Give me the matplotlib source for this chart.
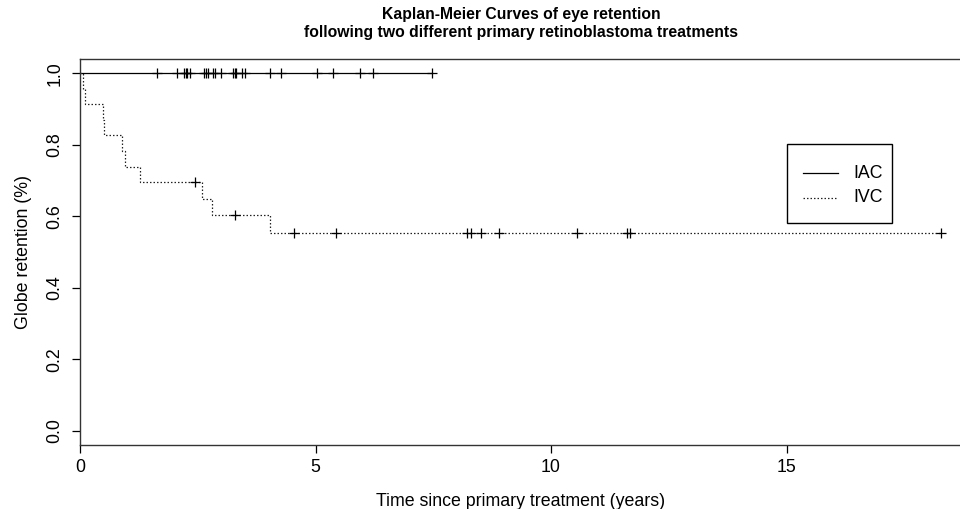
import numpy as np
import matplotlib
matplotlib.use("Agg")
import matplotlib.pyplot as plt
from matplotlib.lines import Line2D
from matplotlib.patches import Rectangle

plt.rcParams['font.family'] = ['Liberation Sans', 'DejaVu Sans']

# ---- data ----
# IAC group: all observations censored (no events)
iac_times = [1.63, 2.07, 2.21, 2.24, 2.27, 2.34, 2.63, 2.67, 2.71, 2.82, 2.86, 2.99,
             3.25, 3.29, 3.32, 3.45, 3.50, 4.04, 4.26, 5.04, 5.38, 5.94, 6.22, 7.47]
iac_events = [0] * len(iac_times)

# IVC group: event times (status 1) and censoring times (status 0)
ivc_event_times = [0.055, 0.11, 0.48, 0.51, 0.885, 0.96, 1.27, 2.60, 2.81, 4.03]
ivc_censor_times = [2.44, 3.29, 4.54, 5.43, 8.22, 8.30, 8.30, 8.51, 8.90,
                    10.55, 11.61, 11.68, 18.28]

group_labels = ["IAC", "IVC"]
title_lines = ["Kaplan-Meier Curves of eye retention",
               "following two different primary retinoblastoma treatments"]
x_label = "Time since primary treatment (years)"
y_label = "Globe retention (%)"
x_ticks = [0, 5, 10, 15]
y_ticks = [0.0, 0.2, 0.4, 0.6, 0.8, 1.0]
y_tick_labels = ["0.0", "0.2", "0.4", "0.6", "0.8", "1.0"]


def kaplan_meier(times, status):
    times = np.asarray(times, float)
    status = np.asarray(status, int)
    uniq = np.unique(times)
    surv = 1.0
    step_t, step_s = [0.0], [1.0]
    cens_t, cens_s = [], []
    for t in uniq:
        at_risk = np.sum(times >= t)
        d = np.sum((times == t) & (status == 1))
        c = np.sum((times == t) & (status == 0))
        if d > 0:
            surv *= (1 - d / at_risk)
            step_t.append(t)
            step_s.append(surv)
        if c > 0:
            cens_t.append(t)
            cens_s.append(surv)
    tmax = times.max()
    if step_t[-1] < tmax:
        step_t.append(tmax)
        step_s.append(surv)
    return np.array(step_t), np.array(step_s), np.array(cens_t), np.array(cens_s)


W, H = 960, 509
fig = plt.figure(figsize=(W / 100, H / 100), dpi=100)
left, right, top, bottom = 80, 962, 59, 445
ax = fig.add_axes([left / W, 1 - bottom / H, (right - left) / W, (bottom - top) / H])

lw = 0.9
dotted = (0, (1.2, 1.6))
styles = [dict(color='black', lw=lw, linestyle='-'),
          dict(color='#222222', lw=lw, linestyle=dotted)]

# IAC
t1, s1, ct1, cs1 = kaplan_meier(iac_times, iac_events)
ax.step(t1, s1, where='post', **styles[0])
ax.plot(ct1, cs1, linestyle='none', marker='+', markersize=7.5, mew=0.9, color='black')

# IVC
ivc_times = ivc_event_times + ivc_censor_times
ivc_status = [1] * len(ivc_event_times) + [0] * len(ivc_censor_times)
t2, s2, ct2, cs2 = kaplan_meier(ivc_times, ivc_status)
ax.step(t2, s2, where='post', **styles[1])
ax.plot(ct2, cs2, linestyle='none', marker='+', markersize=7.5, mew=0.9, color='black')

ax.set_xlim(0, (right - left) / 47.1)
ax.set_ylim(-0.04, 1.04)
ax.set_xticks(x_ticks)
ax.set_xticklabels([str(v) for v in x_ticks])
ax.set_yticks(y_ticks)
ax.set_yticklabels(y_tick_labels, rotation=90, va='center')
ax.tick_params(axis='both', direction='out', length=5.5, width=0.9, labelsize=12.8, colors='black')
ax.tick_params(axis='x', pad=4.5)
ax.tick_params(axis='y', pad=6.5)
for sp in ax.spines.values():
    sp.set_linewidth(1.0)
    sp.set_color('#333333')

ax.set_xlabel(x_label, fontsize=12.8, labelpad=12)
ax.set_ylabel(y_label, fontsize=12.8, labelpad=10)

fig.text(521 / W, 1 - 14 / H, title_lines[0], ha='center', va='center',
         fontsize=11.3, fontweight='bold')
fig.text(521 / W, 1 - 33 / H, title_lines[1], ha='center', va='center',
         fontsize=11.3, fontweight='bold')

# legend box (R-style), laid out in figure pixel positions
def fx(px):
    return px / W


def fy(py):
    return 1 - py / H


box = Rectangle((fx(786.7), fy(223)), fx(892.3) - fx(786.7), fy(144) - fy(223),
                transform=fig.transFigure, fill=True, facecolor='white',
                edgecolor='black', lw=1.0, zorder=5)
fig.add_artist(box)
for i, (lab, st) in enumerate(zip(group_labels, styles)):
    yy = 173 + 25 * i
    fig.add_artist(Line2D([fx(803), fx(838)], [fy(yy), fy(yy)],
                          transform=fig.transFigure, zorder=6, **st))
    fig.text(fx(853), fy(yy), lab, ha='left', va='center', fontsize=12.8, zorder=6)

fig.savefig("out.png", dpi=100)
